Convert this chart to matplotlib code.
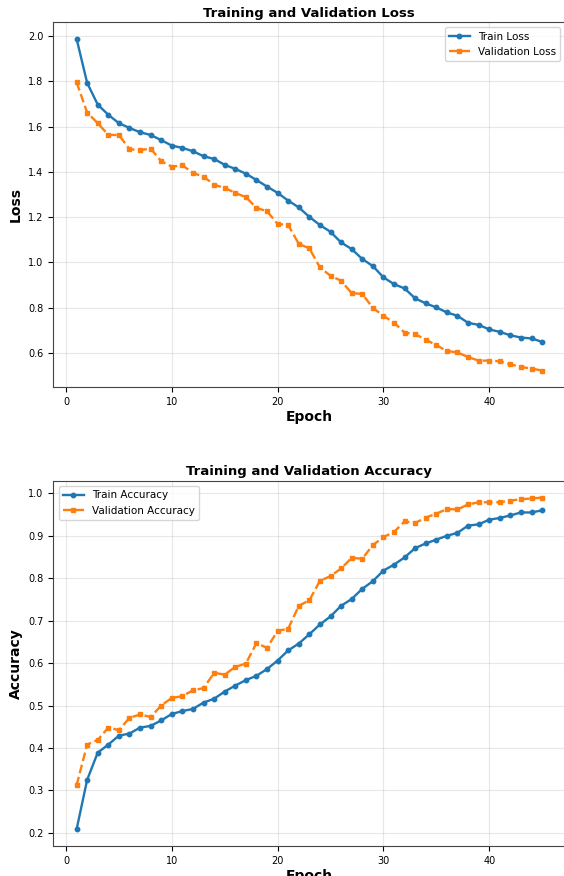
import matplotlib.pyplot as plt

epochs = list(range(1, 46))

train_loss = [1.988, 1.793, 1.697, 1.652, 1.615, 1.594, 1.575, 1.563, 1.540, 1.516,
              1.506, 1.491, 1.469, 1.457, 1.431, 1.413, 1.392, 1.364, 1.335, 1.307,
              1.273, 1.243, 1.201, 1.165, 1.135, 1.088, 1.059, 1.015, 0.984, 0.934,
              0.904, 0.885, 0.841, 0.819, 0.801, 0.779, 0.764, 0.733, 0.724, 0.704,
              0.693, 0.678, 0.668, 0.664, 0.649]
val_loss = [1.796, 1.662, 1.615, 1.563, 1.563, 1.500, 1.496, 1.503, 1.447, 1.423,
            1.429, 1.395, 1.379, 1.343, 1.329, 1.307, 1.288, 1.241, 1.226, 1.170,
            1.165, 1.082, 1.062, 0.978, 0.941, 0.919, 0.864, 0.861, 0.799, 0.764,
            0.734, 0.690, 0.683, 0.659, 0.634, 0.609, 0.602, 0.582, 0.566, 0.566,
            0.563, 0.550, 0.538, 0.531, 0.522]

train_acc = [0.208, 0.325, 0.389, 0.408, 0.429, 0.434, 0.448, 0.452, 0.465, 0.480,
             0.487, 0.492, 0.507, 0.516, 0.533, 0.547, 0.560, 0.570, 0.586, 0.606,
             0.630, 0.646, 0.668, 0.691, 0.710, 0.735, 0.751, 0.775, 0.793, 0.818,
             0.832, 0.849, 0.871, 0.882, 0.891, 0.900, 0.907, 0.924, 0.927, 0.938,
             0.942, 0.948, 0.955, 0.955, 0.960]
val_acc = [0.312, 0.408, 0.419, 0.448, 0.442, 0.471, 0.479, 0.473, 0.500, 0.518,
           0.522, 0.536, 0.541, 0.577, 0.573, 0.591, 0.599, 0.647, 0.636, 0.676,
           0.681, 0.735, 0.748, 0.794, 0.805, 0.823, 0.848, 0.846, 0.878, 0.897,
           0.909, 0.934, 0.930, 0.943, 0.952, 0.963, 0.962, 0.974, 0.979, 0.979,
           0.979, 0.983, 0.986, 0.988, 0.990]

fig = plt.figure(figsize=(5.64, 8.76), dpi=100)
ax1 = fig.add_axes([0.0945, 0.558, 0.908, 0.4167])
ax2 = fig.add_axes([0.0945, 0.0342, 0.908, 0.4167])

# loss
ax1.plot(epochs, train_loss, 'o-', color='#1f77b4', lw=1.7, ms=3.2, label='Train Loss')
ax1.plot(epochs, val_loss, 's--', color='#ff7f0e', lw=1.7, ms=3.2, label='Validation Loss')
ax1.set_title('Training and Validation Loss', fontsize=9.5, fontweight='bold', pad=4)
ax1.set_xlabel('Epoch', fontsize=10, fontweight='bold', labelpad=2)
ax1.set_ylabel('Loss', fontsize=10, fontweight='bold')
ax1.legend(loc='upper right', fontsize=7.5)
ax1.grid(True, alpha=0.3)

# accuracy
ax2.plot(epochs, train_acc, 'o-', color='#1f77b4', lw=1.7, ms=3.2, label='Train Accuracy')
ax2.plot(epochs, val_acc, 's--', color='#ff7f0e', lw=1.7, ms=3.2, label='Validation Accuracy')
ax2.set_title('Training and Validation Accuracy', fontsize=9.5, fontweight='bold', pad=4)
ax2.set_xlabel('Epoch', fontsize=10, fontweight='bold', labelpad=2)
ax2.set_ylabel('Accuracy', fontsize=10, fontweight='bold')
ax2.legend(loc='upper left', fontsize=7.5)
ax2.grid(True, alpha=0.3)

for ax in (ax1, ax2):
    ax.tick_params(labelsize=7)
    for s in ax.spines.values():
        s.set_color('#444444')

fig.savefig('out.png', dpi=100)
